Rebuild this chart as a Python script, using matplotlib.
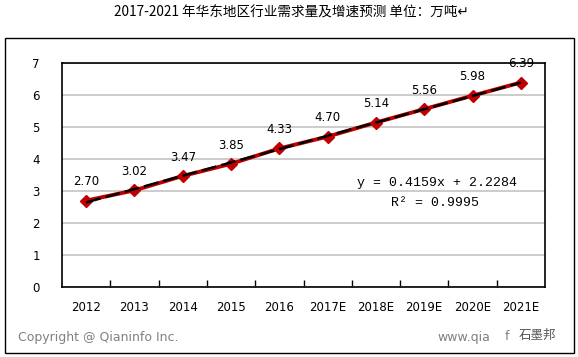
import matplotlib
matplotlib.use("Agg")
import matplotlib.pyplot as plt
import numpy as np
from matplotlib.patches import Rectangle

plt.rcParams['font.family'] = ['DejaVu Sans', 'Noto Sans CJK SC']

title = "2017-2021 年华东地区行业需求量及增速预测 单位：万吨↵"
years = ["2012", "2013", "2014", "2015", "2016", "2017E", "2018E", "2019E", "2020E", "2021E"]
demand = [2.70, 3.02, 3.47, 3.85, 4.33, 4.70, 5.14, 5.56, 5.98, 6.39]
trend_slope = 0.4159
trend_intercept = 2.2284
eq_text = "y = 0.4159x + 2.2284"
r2_text = "R² = 0.9995"
yticks = [0, 1, 2, 3, 4, 5, 6, 7]

W, H = 578, 357
fig = plt.figure(figsize=(W / 100, H / 100), dpi=100)

# outer frame
fig.patches.append(Rectangle((5 / W, 4 / H), 569 / W, 315 / H, transform=fig.transFigure,
                             fill=False, edgecolor='black', linewidth=1.0))

ax = fig.add_axes([62 / W, 70 / H, 483 / W, 224 / H])
x = np.arange(len(years))

ax.set_xlim(-0.5, len(years) - 0.5)
ax.set_ylim(0, 7)
ax.set_yticks(yticks)
ax.yaxis.grid(True, color='#C8C8C8', linewidth=1.3)
ax.set_axisbelow(True)

ax.set_xticks(x)
ax.set_xticklabels(years, fontsize=8.5)
ax.tick_params(axis='x', which='major', length=0, pad=10)
ax.set_xticks(x[:-1] + 0.5, minor=True)
ax.tick_params(axis='x', which='minor', direction='in', length=5, width=1, color='black')
ax.tick_params(axis='y', length=0, pad=16, labelsize=8.5)
for s in ax.spines.values():
    s.set_linewidth(1.2)
    s.set_color('black')

ax.plot(x, demand, color='#C00000', linewidth=2.8, marker='D', markersize=6,
        markerfacecolor='#C00000', markeredgecolor='#C00000', zorder=3)
xt = np.array([0, len(years) - 1])
ax.plot(xt, trend_slope * (xt + 1) + trend_intercept, color='black', linewidth=1.8,
        linestyle=(0, (6, 2)), zorder=4)

for xi, v in zip(x, demand):
    ax.annotate(f"{v:.2f}", (xi, v), xytext=(0, 13.5), textcoords='offset points',
                ha='center', va='center', fontsize=8.5, annotation_clip=False, zorder=1)

ax.text(437 / W, (H - 183) / H, eq_text, transform=fig.transFigure, ha='center', va='center',
        fontsize=9.5, family='Liberation Mono')
ax.text(435 / W, (H - 203) / H, r2_text, transform=fig.transFigure, ha='center', va='center',
        fontsize=9.5, family='Liberation Mono')

fig.text(291 / W, 1 - 13 / H, title, ha='center', va='center', fontsize=9.8,
         family=['Noto Sans CJK SC', 'DejaVu Sans'])
fig.text(18 / W, 20 / H, "Copyright @ Qianinfo Inc.", ha='left', va='center', fontsize=9,
         color='#808080')
fig.text(437 / W, 20 / H, "www.qia", ha='left', va='center', fontsize=9, color='#808080')
fig.text(505 / W, 20 / H, "f", ha='left', va='center', fontsize=9, color='#808080')
fig.text(519 / W, 22 / H, "石墨邦", ha='left', va='center', fontsize=9, color='#555555',
         family=['Noto Sans CJK SC', 'DejaVu Sans'])

fig.savefig("out.png", dpi=100, facecolor='white')
